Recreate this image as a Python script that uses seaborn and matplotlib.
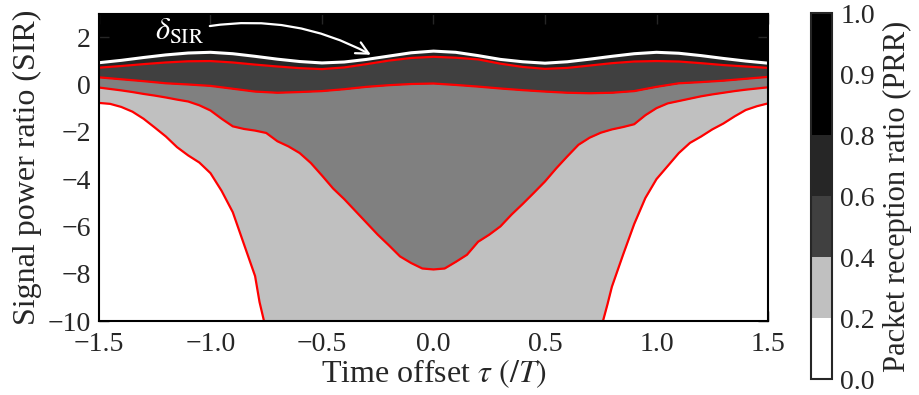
import numpy as np
import matplotlib
matplotlib.use("Agg")
import matplotlib.pyplot as plt
from matplotlib.colors import ListedColormap, BoundaryNorm
from matplotlib.cm import ScalarMappable
import seaborn as sns

# ---- data ----
tau = [-1.5, -1.4, -1.3, -1.2, -1.1, -1.0, -0.9, -0.8, -0.7, -0.6, -0.5,
       -0.4, -0.3, -0.2, -0.1, 0.0, 0.1, 0.2, 0.3, 0.4, 0.5,
       0.6, 0.7, 0.8, 0.9, 1.0, 1.1, 1.2, 1.3, 1.4, 1.5]

# delta_SIR (white curve)
delta_sir = [0.92, 1.02, 1.14, 1.25, 1.33, 1.36, 1.30, 1.19, 1.07, 0.97, 0.91,
             0.95, 1.06, 1.20, 1.34, 1.41, 1.36, 1.22, 1.06, 0.96, 0.90,
             0.96, 1.07, 1.19, 1.30, 1.36, 1.32, 1.22, 1.10, 0.99, 0.90]

# PRR = 0.8 contour
prr_08 = [0.71, 0.78, 0.86, 0.93, 0.98, 0.99, 0.93, 0.84, 0.76, 0.69, 0.65,
          0.72, 0.86, 1.01, 1.12, 1.17, 1.13, 1.06, 0.88, 0.74, 0.66,
          0.70, 0.80, 0.90, 0.97, 0.99, 0.97, 0.90, 0.82, 0.76, 0.70]

# PRR = 0.6 contour
prr_06 = [0.30, 0.22, 0.14, 0.05, 0.00, -0.06, -0.18, -0.30, -0.35, -0.32, -0.28,
          -0.20, -0.10, -0.03, 0.02, 0.04, -0.02, -0.09, -0.17, -0.24, -0.30,
          -0.35, -0.37, -0.35, -0.28, -0.10, 0.05, 0.10, 0.16, 0.24, 0.32]

# PRR = 0.4 contour (finer sampling)
tau_fine = [-1.5, -1.45, -1.4, -1.35, -1.3, -1.25, -1.2, -1.15, -1.1, -1.05,
            -1.0, -0.95, -0.9, -0.85, -0.8, -0.75, -0.7, -0.65, -0.6, -0.55,
            -0.5, -0.45, -0.4, -0.35, -0.3, -0.25, -0.2, -0.15, -0.1, -0.05,
            0.0, 0.05, 0.1, 0.15, 0.2, 0.25, 0.3, 0.35, 0.4, 0.45,
            0.5, 0.55, 0.6, 0.65, 0.7, 0.75, 0.8, 0.85, 0.9, 0.95,
            1.0, 1.05, 1.1, 1.15, 1.2, 1.25, 1.3, 1.35, 1.4, 1.45, 1.5]
prr_04 = [-0.13, -0.19, -0.25, -0.32, -0.40, -0.47, -0.55, -0.64, -0.72, -0.88,
          -1.10, -1.45, -1.77, -1.88, -1.95, -2.05, -2.40, -2.62, -2.90, -3.32,
          -3.85, -4.40, -4.85, -5.35, -5.85, -6.35, -6.80, -7.27, -7.55, -7.78,
          -7.82, -7.78, -7.50, -7.20, -6.65, -6.35, -6.00, -5.50, -5.05, -4.58,
          -4.10, -3.55, -3.04, -2.55, -2.25, -2.04, -1.90, -1.80, -1.68, -1.30,
          -1.00, -0.80, -0.70, -0.60, -0.50, -0.42, -0.35, -0.28, -0.22, -0.17, -0.12]

# PRR = 0.2 contour (two branches)
tau_left = [-1.5, -1.45, -1.4, -1.35, -1.3, -1.25, -1.2, -1.15, -1.1, -1.05,
            -1.0, -0.95, -0.9, -0.85, -0.8, -0.78, -0.76]
prr_02_left = [-0.78, -0.82, -0.95, -1.15, -1.45, -1.82, -2.20, -2.65, -3.00, -3.30,
               -3.75, -4.50, -5.40, -6.75, -8.10, -9.20, -10.0]
tau_right = [0.76, 0.78, 0.8, 0.85, 0.9, 0.95, 1.0, 1.05, 1.1, 1.15,
             1.2, 1.25, 1.3, 1.35, 1.4, 1.45, 1.5]
prr_02_right = [-10.0, -9.30, -8.55, -7.20, -5.90, -4.80, -4.00, -3.45, -2.90, -2.47,
                -2.20, -1.90, -1.65, -1.35, -1.08, -0.92, -0.80]

# colour bar as drawn in the reference
prr_levels = [0.0, 0.2, 0.4, 0.6, 0.8, 0.9, 1.0]
prr_colors = ["#ffffff", "#c0c0c0", "#404040", "#262626", "#000000", "#000000"]
x_ticks = [-1.5, -1.0, -0.5, 0.0, 0.5, 1.0, 1.5]
y_ticks = [-10, -8, -6, -4, -2, 0, 2]
y_min, y_max = -10, 3

# ---- style ----
sns.set_style("ticks")
plt.rcParams["font.family"] = ["Liberation Serif", "DejaVu Serif"]
plt.rcParams["mathtext.fontset"] = "stix"
plt.rcParams["axes.unicode_minus"] = True

fig = plt.figure(figsize=(9.19, 3.95), dpi=100)
ax = fig.add_axes([0.1077, 0.1873, 0.728, 0.7785])
cax = fig.add_axes([0.8825, 0.040, 0.0229, 0.927])

ax.set_facecolor("black")
ax.fill_between(tau, prr_08, delta_sir, color="#262626", lw=0)
ax.fill_between(tau, prr_06, prr_08, color="#404040", lw=0)
ax.fill_between(tau, prr_06, y_min, color="#808080", lw=0)
ax.fill_between(tau_fine, y_min, prr_04, color="#c0c0c0", lw=0)
ax.fill_between(tau_left, y_min, prr_02_left, color="white", lw=0)
ax.fill_between(tau_right, y_min, prr_02_right, color="white", lw=0)

line_kw = dict(ax=ax, estimator=None, sort=False)
sns.lineplot(x=tau, y=prr_08, color="red", lw=1.6, **line_kw)
sns.lineplot(x=tau, y=prr_06, color="red", lw=1.6, **line_kw)
sns.lineplot(x=tau_fine, y=prr_04, color="red", lw=1.6, **line_kw)
sns.lineplot(x=tau_left, y=prr_02_left, color="red", lw=1.6, **line_kw)
sns.lineplot(x=tau_right, y=prr_02_right, color="red", lw=1.6, **line_kw)
sns.lineplot(x=tau, y=delta_sir, color="white", lw=2.2, **line_kw)

ax.annotate(r"$\delta_{\mathrm{SIR}}$", xy=(-0.27, 1.2), xytext=(-1.14, 2.2),
            color="white", fontsize=22, ha="center", va="center",
            arrowprops=dict(arrowstyle="->", color="white", lw=1.6,
                            connectionstyle="arc3,rad=-0.2", shrinkA=2, shrinkB=2))

ax.set_xlim(-1.5, 1.5)
ax.set_ylim(y_min, y_max)
ax.set_xticks(x_ticks)
ax.set_yticks(y_ticks)
ax.tick_params(direction="in", length=7, width=1, labelsize=20,
               top=True, right=True, pad=6)
ax.tick_params(axis="x", pad=8)
for s in ax.spines.values():
    s.set_linewidth(1.5)
    s.set_color("black")
ax.set_xlabel(r"Time offset $\tau$ $(/T)$", fontsize=23, labelpad=0)
ax.set_ylabel("Signal power ratio (SIR)", fontsize=23, labelpad=4)

cmap = ListedColormap(prr_colors)
norm = BoundaryNorm(prr_levels, cmap.N)
cb = fig.colorbar(ScalarMappable(norm=norm, cmap=cmap), cax=cax,
                  ticks=prr_levels, spacing="uniform")
cb.outline.set_linewidth(1.5)
cb.ax.tick_params(length=0, labelsize=20, pad=6)
cb.ax.set_yticklabels([f"{t:.1f}" for t in prr_levels])
cb.set_label("Packet reception ratio (PRR)", fontsize=22, labelpad=6)

fig.savefig("out.png", dpi=100)
